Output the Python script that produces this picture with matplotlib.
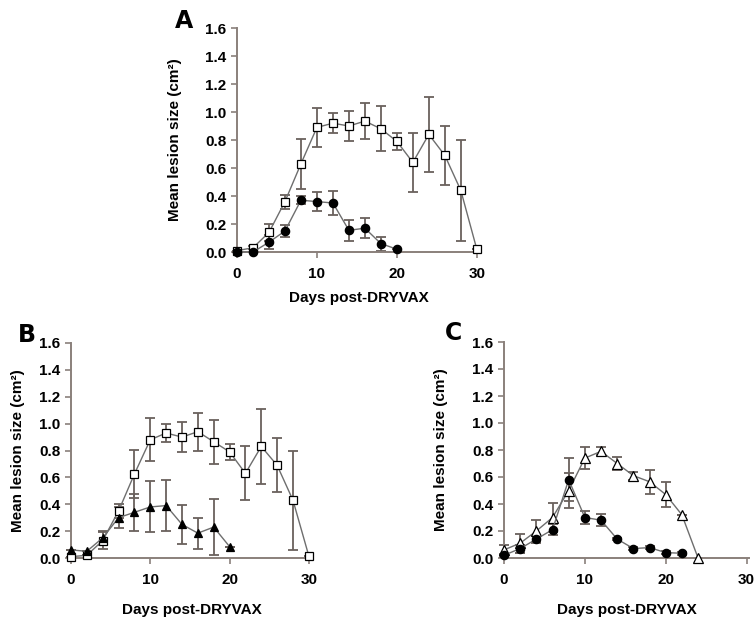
import matplotlib
matplotlib.use("Agg")
import matplotlib.pyplot as plt

plt.rcParams['font.family'] = ['Liberation Sans', 'DejaVu Sans']

# panel A: open squares (days 0-30) and filled circles (days 0-20)
days_a_sq = [0, 2, 4, 6, 8, 10, 12, 14, 16, 18, 20, 22, 24, 26, 28, 30]
a_sq = [0.01, 0.03, 0.14, 0.36, 0.63, 0.89, 0.92, 0.90, 0.935, 0.88, 0.79, 0.64, 0.84, 0.69, 0.44, 0.02]
a_sq_err = [0.0, 0.01, 0.06, 0.05, 0.18, 0.14, 0.07, 0.11, 0.13, 0.16, 0.06, 0.21, 0.27, 0.21, 0.36, 0.0]
days_a_ci = [0, 2, 4, 6, 8, 10, 12, 14, 16, 18, 20]
a_ci = [0.0, 0.0, 0.07, 0.15, 0.37, 0.36, 0.35, 0.155, 0.17, 0.06, 0.02]
a_ci_err = [0.0, 0.0, 0.05, 0.045, 0.03, 0.07, 0.085, 0.075, 0.07, 0.05, 0.0]

# panel B: open squares and filled triangles
days_b_sq = [0, 2, 4, 6, 8, 10, 12, 14, 16, 18, 20, 22, 24, 26, 28, 30]
b_sq = [0.01, 0.02, 0.13, 0.35, 0.625, 0.88, 0.93, 0.90, 0.94, 0.865, 0.79, 0.63, 0.83, 0.69, 0.43, 0.015]
b_sq_err = [0.0, 0.0, 0.065, 0.05, 0.18, 0.16, 0.07, 0.11, 0.14, 0.165, 0.06, 0.2, 0.28, 0.2, 0.37, 0.0]
days_b_tr = [0, 2, 4, 6, 8, 10, 12, 14, 16, 18, 20]
b_tr = [0.06, 0.05, 0.15, 0.30, 0.34, 0.38, 0.39, 0.25, 0.185, 0.23, 0.085]
b_tr_err = [0.0, 0.0, 0.05, 0.08, 0.14, 0.19, 0.19, 0.145, 0.115, 0.21, 0.0]

# panel C: open triangles (days 0-24) and filled circles (days 0-22)
days_c_tr = [0, 2, 4, 6, 8, 10, 12, 14, 16, 18, 20, 22, 24]
c_tr = [0.06, 0.11, 0.20, 0.30, 0.50, 0.74, 0.79, 0.70, 0.61, 0.565, 0.47, 0.32, 0.0]
c_tr_err = [0.04, 0.07, 0.085, 0.105, 0.13, 0.08, 0.03, 0.05, 0.03, 0.09, 0.09, 0.0, 0.0]
days_c_ci = [0, 2, 4, 6, 8, 10, 12, 14, 16, 18, 20, 22]
c_ci = [0.02, 0.07, 0.14, 0.21, 0.58, 0.30, 0.28, 0.14, 0.07, 0.077, 0.04, 0.035]
c_ci_err = [0.01, 0.03, 0.03, 0.04, 0.16, 0.045, 0.045, 0.01, 0.01, 0.01, 0.01, 0.01]

yticks = [0.0, 0.2, 0.4, 0.6, 0.8, 1.0, 1.2, 1.4, 1.6]
xticks = [0, 10, 20, 30]

AX_COL = '#8a807b'
ERR_COL = '#6a615d'
LINE_COL = '#6e6e6e'

W, H = 754, 621


def px_axes(fig, left, right, top, bottom):
    return fig.add_axes([left / W, 1 - bottom / H, (right - left) / W, (bottom - top) / H])


def series(ax, x, y, err, marker, face, ms):
    ax.errorbar(x, y, yerr=err, fmt='none', ecolor=ERR_COL, elinewidth=1.3,
                capsize=3.6, capthick=1.3, clip_on=False, zorder=2)
    ax.plot(x, y, color=LINE_COL, linewidth=1.0, marker=marker, markersize=ms,
            markerfacecolor=face, markeredgecolor='black', markeredgewidth=0.9,
            clip_on=False, zorder=3)


def style(ax, xlim, ylab_off, xlab_pad):
    ax.set_xlim(*xlim)
    ax.set_ylim(0, 1.6)
    ax.set_yticks(yticks)
    ax.set_yticklabels([f"{v:.1f}" for v in yticks])
    ax.set_xticks(xticks)
    for s in ['top', 'right']:
        ax.spines[s].set_visible(False)
    for s in ['left', 'bottom']:
        ax.spines[s].set_color(AX_COL)
        ax.spines[s].set_linewidth(1.4)
    ax.tick_params(axis='both', colors=AX_COL, length=4, width=1.2, labelsize=11,
                   labelcolor='black', pad=3.5)
    ax.tick_params(axis='x', pad=6.5)
    for lab in ax.get_xticklabels() + ax.get_yticklabels():
        lab.set_fontweight('bold')
    ax.set_ylabel("Mean lesion size (cm²)", fontsize=11, fontweight='bold')
    ax.yaxis.set_label_coords(ylab_off, 0.5)
    ax.set_xlabel("Days post-DRYVAX", fontsize=11, fontweight='bold', labelpad=xlab_pad)


fig = plt.figure(figsize=(W / 100, H / 100), dpi=100)

ax_a = px_axes(fig, 237, 480, 28, 252)
series(ax_a, days_a_sq, a_sq, a_sq_err, 's', 'white', 6)
series(ax_a, days_a_ci, a_ci, a_ci_err, 'o', 'black', 6)
style(ax_a, (0, 30.4), -55 / 243, 7.5)

ax_b = px_axes(fig, 71, 312, 343, 558)
series(ax_b, days_b_sq, b_sq, b_sq_err, 's', 'white', 6)
series(ax_b, days_b_tr, b_tr, b_tr_err, '^', 'black', 6)
style(ax_b, (0.25, 30.4), -46 / 241, 12)

ax_c = px_axes(fig, 504, 749, 342, 558)
series(ax_c, days_c_tr, c_tr, c_tr_err, '^', 'white', 6.5)
series(ax_c, days_c_ci, c_ci, c_ci_err, 'o', 'black', 6)
style(ax_c, (0, 30.3), -56 / 245, 12)

for txt, x, y in [("A", 184, 21), ("B", 27, 335), ("C", 454, 333)]:
    fig.text(x / W, 1 - y / H, txt, fontsize=17, fontweight='bold',
             family='DejaVu Sans', ha='center', va='center')

fig.savefig("out.png", dpi=100)
